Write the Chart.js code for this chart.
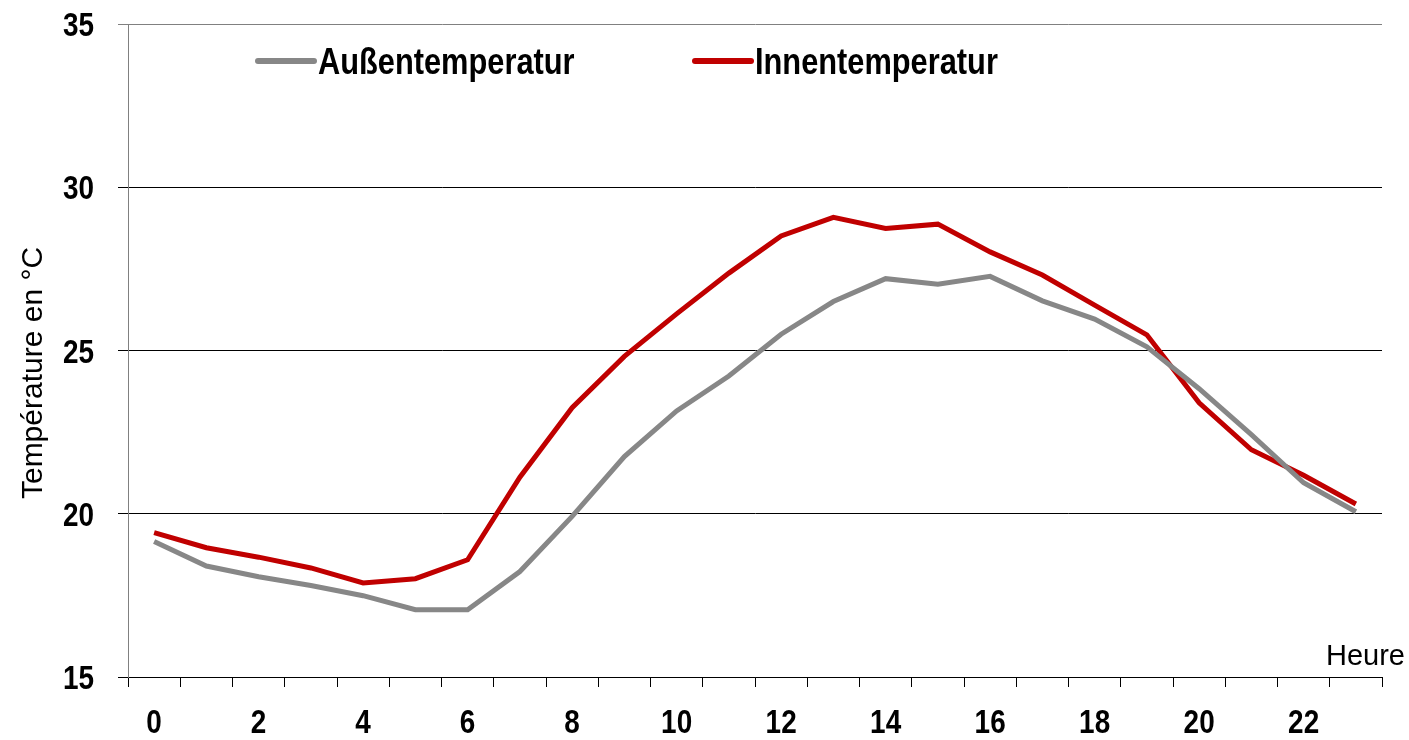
<!DOCTYPE html>
<html>
<head>
<meta charset="utf-8">
<script src="https://cdn.jsdelivr.net/npm/chart.js@4/dist/chart.umd.min.js"></script>
<style>
  html, body { margin: 0; padding: 0; background: #fff; }
  canvas { display: block; }
</style>
</head>
<body>
<canvas id="chart" width="1409" height="740"></canvas>
<script>
// hourly values, 0..23 h
const hours = [0, 1, 2, 3, 4, 5, 6, 7, 8, 9, 10, 11, 12, 13, 14, 15, 16, 17, 18, 19, 20, 21, 22, 23];
const aussen = [19.15, 18.4, 18.07, 17.8, 17.49, 17.06, 17.06, 18.23, 19.92, 21.75, 23.15, 24.22,
                25.5, 26.5, 27.2, 27.03, 27.27, 26.52, 25.96, 25.11, 23.83, 22.42, 20.95, 20.06];
const innen = [19.42, 18.96, 18.67, 18.34, 17.88, 18.01, 18.59, 21.12, 23.25, 24.82, 26.12, 27.37,
               28.51, 29.08, 28.74, 28.87, 28.02, 27.31, 26.39, 25.48, 23.4, 21.96, 21.18, 20.3];
const yTicks = [15, 20, 25, 30, 35];

const BOLD = 'bold 34px "Liberation Sans", Arial, sans-serif';
const REGULAR = '"Liberation Sans", Arial, sans-serif';

// draw narrow bold text (no condensed face installed)
function narrowText(ctx, text, x, y, align, font, squeeze) {
  ctx.save();
  ctx.translate(x, y);
  ctx.scale(squeeze || 0.82, 1);
  ctx.font = font;
  ctx.textAlign = align;
  ctx.textBaseline = 'alphabetic';
  ctx.fillText(text, 0, 0);
  ctx.restore();
}

// tick labels, legend inside the plot, axis title and unit label
const extras = {
  id: 'extras',
  afterDraw(chart) {
    const ctx = chart.ctx;
    const xs = chart.scales.x;
    const ys = chart.scales.y;
    ctx.save();
    ctx.fillStyle = '#000';

    yTicks.forEach(v => {
      narrowText(ctx, String(v), 94, ys.getPixelForValue(v) + 12, 'right', BOLD);
    });
    hours.forEach((h, i) => {
      if (i % 2 === 0) narrowText(ctx, String(h), xs.getPixelForValue(i), 733, 'center', BOLD);
    });

    const legendX = [258, 695];
    chart.data.datasets.forEach((ds, i) => {
      const x = legendX[i];
      const y = 61;
      ctx.strokeStyle = ds.borderColor;
      ctx.lineWidth = 6;
      ctx.lineCap = 'round';
      ctx.beginPath();
      ctx.moveTo(x, y);
      ctx.lineTo(x + 56, y);
      ctx.stroke();
      narrowText(ctx, ds.label, x + 60, y + 13, 'left', 'bold 36px "Liberation Sans", Arial, sans-serif', 0.855);
    });

    ctx.font = '29px ' + REGULAR;
    ctx.textAlign = 'right';
    ctx.textBaseline = 'alphabetic';
    ctx.fillText('Heure', 1405, 665);

    ctx.translate(42, 373);
    ctx.rotate(-Math.PI / 2);
    ctx.font = '30px ' + REGULAR;
    ctx.textAlign = 'center';
    ctx.fillText('Température en °C', 0, 0);
    ctx.restore();
  }
};

new Chart(document.getElementById('chart'), {
  type: 'line',
  data: {
    labels: hours,
    datasets: [
      {
        label: 'Außentemperatur',
        data: aussen,
        borderColor: '#878787',
        borderWidth: 5,
        pointRadius: 0,
        tension: 0,
        fill: false
      },
      {
        label: 'Innentemperatur',
        data: innen,
        borderColor: '#C00000',
        borderWidth: 5,
        pointRadius: 0,
        tension: 0,
        fill: false
      }
    ]
  },
  options: {
    responsive: false,
    animation: false,
    layout: { padding: { top: 24, right: 27, left: 0, bottom: 0 } },
    plugins: {
      legend: { display: false },
      tooltip: { enabled: false }
    },
    scales: {
      x: {
        offset: true,
        afterFit: (scale) => { scale.height = 63; },
        grid: {
          offset: true,
          drawOnChartArea: false,
          tickLength: 10,
          color: '#000'
        },
        border: { color: '#000', width: 1 },
        ticks: { display: false, autoSkip: false }
      },
      y: {
        min: yTicks[0],
        max: yTicks[yTicks.length - 1],
        afterFit: (scale) => { scale.width = 128; },
        afterBuildTicks: (scale) => { scale.ticks = yTicks.map(v => ({ value: v })); },
        grid: {
          tickLength: 10,
          lineWidth: 1,
          color: (c) => (c.tick && c.tick.value === 35 ? '#808080' : '#000')
        },
        border: { color: '#808080', width: 1 },
        ticks: { display: false }
      }
    }
  },
  plugins: [extras]
});
</script>
</body>
</html>
